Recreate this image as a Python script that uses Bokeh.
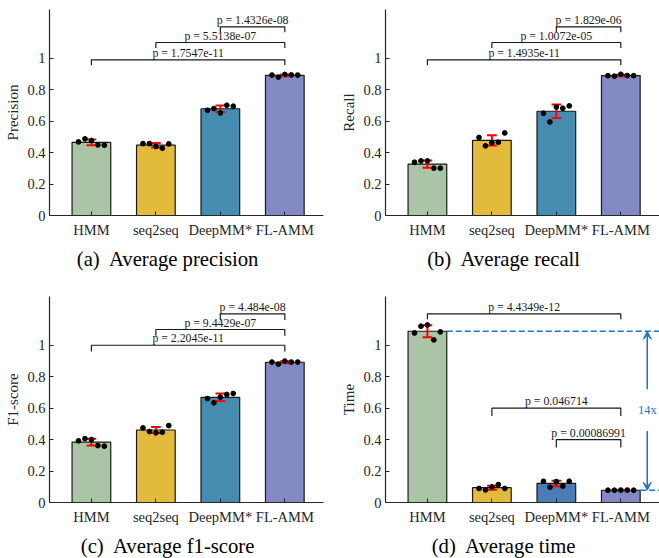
from bokeh.plotting import figure
from bokeh.layouts import gridplot
from bokeh.models import FixedTicker, Title, Arrow, VeeHead
from bokeh.core.properties import value
from bokeh.embed import file_html
from bokeh.resources import INLINE

# ---------------- data ----------------
categories = ["HMM", "seq2seq", "DeepMM*", "FL-AMM"]

precision_runs = [
    [0.468, 0.487, 0.477, 0.449, 0.447],
    [0.457, 0.457, 0.439, 0.428, 0.455],
    [0.669, 0.680, 0.652, 0.701, 0.695],
    [0.893, 0.880, 0.897, 0.894, 0.893],
]
precision_mean = [0.465, 0.447, 0.679, 0.891]
precision_std = [0.018, 0.014, 0.021, 0.006]
precision_p = ["p = 1.7547e-11", "p = 5.5138e-07", "p = 1.4326e-08"]

recall_runs = [
    [0.339, 0.347, 0.347, 0.301, 0.301],
    [0.496, 0.443, 0.462, 0.466, 0.525],
    [0.650, 0.595, 0.690, 0.682, 0.697],
    [0.889, 0.886, 0.898, 0.890, 0.889],
]
recall_mean = [0.327, 0.478, 0.663, 0.890]
recall_std = [0.023, 0.033, 0.043, 0.005]
recall_p = ["p = 1.4935e-11", "p = 1.0072e-05", "p = 1.829e-06"]

f1_runs = [
    [0.392, 0.406, 0.400, 0.362, 0.358],
    [0.474, 0.451, 0.443, 0.447, 0.489],
    [0.661, 0.634, 0.670, 0.687, 0.693],
    [0.893, 0.880, 0.899, 0.893, 0.893],
]
f1_mean = [0.384, 0.461, 0.669, 0.892]
f1_std = [0.022, 0.019, 0.024, 0.007]
f1_p = ["p = 2.2045e-11", "p = 9.4429e-07", "p = 4.484e-08"]

time_runs = [
    [1.078, 1.121, 1.129, 1.034, 1.085],
    [0.089, 0.080, 0.099, 0.114, 0.089],
    [0.135, 0.097, 0.133, 0.104, 0.135],
    [0.078, 0.078, 0.079, 0.079, 0.078],
]
time_mean = [1.089, 0.094, 0.121, 0.078]
time_std = [0.038, 0.013, 0.017, 0.002]
time_p = ["p = 4.4349e-12", "p = 0.046714", "p = 0.00086991"]

compare_pairs = [(0, 3), (1, 3), (2, 3)]
speedup_label = "14x"

y_ticks = [0, 0.2, 0.4, 0.6, 0.8, 1.0]
y_tick_labels = ["0", "0.2", "0.4", "0.6", "0.8", "1"]

# ---------------- style ----------------
SERIF = "Liberation Serif"
INK = "#262626"
COLORS_ABC = ["#aac4a6", "#e2ba3c", "#468cb1", "#8289c3"]
COLORS_D = ["#aac4a6", "#e2ba3c", "#4a7db5", "#8289c3"]
BLUE = "#1b76c2"
JITTER = [-0.2, -0.1, 0.0, 0.1, 0.2]

TIMES_W = {"(": 333, ")": 333, " ": 250, "\u00a0": 250, "a": 444, "b": 500, "c": 444,
           "d": 500, "e": 444, "f": 333, "g": 500, "i": 278, "l": 278, "m": 778,
           "n": 500, "o": 500, "p": 500, "r": 333, "s": 389, "t": 278, "v": 500,
           "A": 722, "1": 500, "-": 333}
CAP_SIZE = 20.7


def text_w(s, size):
    return sum(TIMES_W.get(ch, 500) for ch in s) / 1000.0 * size


def panel(runs, means, stds, ylabel, caption, pvals, br_y, br_leg, colors,
          left, right, top, bottom):
    p = figure(frame_width=274, frame_height=206, x_range=(0.35, 4.6), y_range=(0, 1.31),
               output_backend="svg", toolbar_location=None,
               min_border_left=left, min_border_right=right,
               min_border_top=top, min_border_bottom=bottom)
    p.title.visible = False
    p.outline_line_color = None
    p.grid.visible = False
    p.background_fill_color = "white"
    p.border_fill_color = "white"

    xs = [i + 1 for i in range(len(categories))]
    p.xaxis.ticker = FixedTicker(ticks=xs)
    p.xaxis.major_label_overrides = {x: c for x, c in zip(xs, categories)}
    p.yaxis.ticker = FixedTicker(ticks=y_ticks)
    p.yaxis.major_label_overrides = {t: l for t, l in zip(y_ticks, y_tick_labels)}
    for ax in (p.xaxis[0], p.yaxis[0]):
        ax.axis_line_color = INK
        ax.axis_line_width = 1.2
        ax.major_tick_in = 4
        ax.major_tick_out = 0
        ax.major_tick_line_color = INK
        ax.minor_tick_line_color = None
        ax.major_label_text_font = SERIF
        ax.major_label_text_font_size = "14.5px"
        ax.major_label_text_color = INK
    p.xaxis.major_label_standoff = 6
    p.yaxis.major_label_standoff = 4
    p.yaxis.axis_label = ylabel
    p.yaxis.axis_label_text_font = SERIF
    p.yaxis.axis_label_text_font_size = "15px"
    p.yaxis.axis_label_text_font_style = "normal"
    p.yaxis.axis_label_text_color = INK
    p.yaxis.axis_label_standoff = 3

    # bars
    p.vbar(x=xs, top=means, bottom=0, width=0.6, fill_color=colors,
           line_color="#1a1a1a", line_width=1.2)
    # error bars
    lo = [m - s for m, s in zip(means, stds)]
    hi = [m + s for m, s in zip(means, stds)]
    cap = 0.075
    p.segment(x0=xs, y0=lo, x1=xs, y1=hi, line_color="red", line_width=2)
    p.segment(x0=[x - cap for x in xs], y0=hi, x1=[x + cap for x in xs], y1=hi,
              line_color="red", line_width=2)
    p.segment(x0=[x - cap for x in xs], y0=lo, x1=[x + cap for x in xs], y1=lo,
              line_color="red", line_width=2)
    # individual runs
    px = [x + o for x, run in zip(xs, runs) for o in JITTER[:len(run)]]
    py = [v for run in runs for v in run]
    p.scatter(px, py, size=4.8, fill_color="black", line_color="black")

    # significance brackets
    bx, by, tx, ty = [], [], [], []
    for (a, b), y, leg in zip(compare_pairs, br_y, br_leg):
        xa, xb = xs[a], xs[b]
        bx.append([xa, xa, xb, xb])
        by.append([y - leg, y, y, y - leg])
        tx.append((xa + xb) / 2)
        ty.append(y)
    p.multi_line(xs=bx, ys=by, line_color="#1a1a1a", line_width=1.2)
    p.text(x=tx, y=ty, text=pvals, text_font=value(SERIF), text_font_size="11.8px",
           text_align="center", text_baseline="bottom", text_color="#1a1a1a")

    w = text_w(caption, CAP_SIZE)
    p.add_layout(Title(text=caption, align="left", offset=119.5 - w / 2,
                       text_font=SERIF, text_font_size=f"{CAP_SIZE}px",
                       text_font_style="normal", text_color="black", standoff=10),
                 "below")
    return p


pa = panel(precision_runs, precision_mean, precision_std, "Precision",
           "(a)\u00a0 Average precision", precision_p,
           [0.99, 1.1, 1.2], [0.035, 0.035, 0.035], COLORS_ABC, 48, 8, 9, 64)
pb = panel(recall_runs, recall_mean, recall_std, "Recall",
           "(b)\u00a0 Average recall", recall_p,
           [0.99, 1.1, 1.2], [0.035, 0.035, 0.035], COLORS_ABC, 55, 0, 9, 64)
pc = panel(f1_runs, f1_mean, f1_std, "F1-score",
           "(c)\u00a0 Average f1-score", f1_p,
           [1.0, 1.1, 1.2], [0.04, 0.04, 0.04], COLORS_ABC, 49, 7, 17, 56)
pd = panel(time_runs, time_mean, time_std, "Time",
           "(d)\u00a0 Average time", time_p,
           [1.2, 0.6, 0.4], [0.035, 0.05, 0.05], COLORS_D, 54, 1, 17, 56)

# speed-up annotation on panel (d)
hm, fm = time_mean[0], time_mean[3]
pd.line([1.3, 4.6], [hm, hm], line_color=BLUE, line_width=1.5, line_dash="6 3")
pd.line([4.3, 4.6], [fm, fm], line_color=BLUE, line_width=1.5, line_dash="6 3")
pd.add_layout(Arrow(end=VeeHead(size=8, fill_color=BLUE, line_color=BLUE),
                    x_start=4.41, y_start=0.72, x_end=4.41, y_end=hm,
                    line_color=BLUE, line_width=1.5))
pd.add_layout(Arrow(end=VeeHead(size=8, fill_color=BLUE, line_color=BLUE),
                    x_start=4.41, y_start=0.455, x_end=4.41, y_end=fm,
                    line_color=BLUE, line_width=1.5))
pd.text(x=[4.41], y=[0.59], text=[speedup_label], text_font=value(SERIF),
        text_font_size="12.5px", text_align="center", text_baseline="middle",
        text_color=BLUE)

grid = gridplot([[pa, pb], [pc, pd]], toolbar_location=None)

open("out.html", "w").write(file_html(grid, INLINE))
